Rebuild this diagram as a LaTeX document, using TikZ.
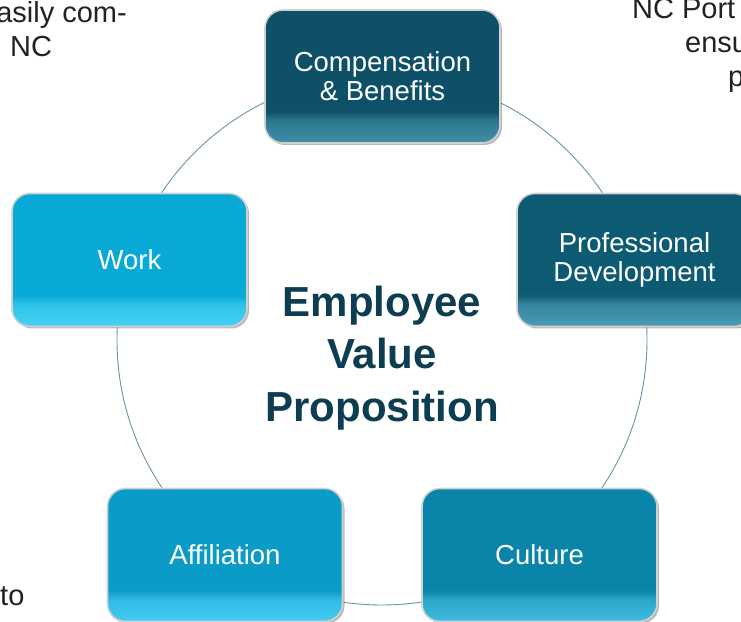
\documentclass[tikz,border=0pt]{standalone}
\usepackage{fontspec}
\setmainfont{Liberation Sans}
\usetikzlibrary{shadows}
\definecolor{ringc}{HTML}{6A94A2}
\definecolor{evpc}{HTML}{0D3D50}
\definecolor{fragc}{HTML}{222222}
\definecolor{compc}{HTML}{0E5068}
\definecolor{compl}{HTML}{3F8EA6}
\definecolor{profc}{HTML}{0D5A73}
\definecolor{profl}{HTML}{4A9DB5}
\definecolor{workc}{HTML}{09A9D6}
\definecolor{workl}{HTML}{45D2F5}
\definecolor{affc}{HTML}{0A9BC6}
\definecolor{affl}{HTML}{45CCF2}
\definecolor{cultc}{HTML}{0A84A8}
\definecolor{cultl}{HTML}{3FBBE0}
\tikzset{
  vbox/.style 2 args={rounded corners=18pt, minimum width=235pt, minimum height=133pt,
    draw=black!18, line width=1.6pt, text=white, align=center,
    font=\fontsize{27.5}{29}\selectfont, fill=#1,
    drop shadow={shadow xshift=2pt, shadow yshift=-2pt, opacity=0.4, fill=black!70},
    path picture={
      \fill[#2, sharp corners] ([yshift=-4pt]path picture bounding box.south west) rectangle
        ([yshift=2pt]path picture bounding box.south east);
      \foreach \k/\pp in {1/96,2/92,3/88,4/85,5/82,6/79,7/76,8/73,9/70,10/66,11/58,12/44,13/28,14/14,15/5}{
        \fill[#2!\pp!#1, sharp corners] ([yshift=\k*2pt-0.3pt]path picture bounding box.south west) rectangle
          ([yshift=\k*2pt+2pt]path picture bounding box.south east);}
    }},
  frag/.style={font=\fontsize{29}{34}\selectfont, text=fragc, inner sep=0pt},
  ring/.style={draw=ringc, line width=0.9pt}
}
\begin{document}
\begin{tikzpicture}[x=1pt, y=1pt]
\useasboundingbox (0,0) rectangle (741,621);
% corner fragments of slide text
\node[frag, anchor=base east] (f1) at (127,598) {asily com-};
\node[frag, anchor=base west] (f2) at (10,564) {NC};
\node[frag, anchor=base west] (f3) at (632,602) {NC Port};
\node[frag, anchor=base west] (f4) at (685,568) {ensu};
\node[frag, anchor=base west] (f5) at (728,534) {p};
\node[frag, anchor=base west] (f6) at (0,16) {to};
% ring
\coordinate (ctr) at (382,281);
\draw[ring] (ctr) circle [radius=265pt];
% boxes
\node[vbox={compc}{compl}] (comp) at (382.5,544.5) {Compensation\\\& Benefits};
\node[vbox={profc}{profl}] (prof) at (634.5,361) {Professional\\Development};
\node[vbox={workc}{workl}] (work) at (129.5,361) {Work};
\node[vbox={affc}{affl}] (aff) at (225,66) {Affiliation};
\node[vbox={cultc}{cultl}] (cult) at (539.5,66) {Culture};
% centre
\node[font=\fontsize{42}{52.5}\selectfont\bfseries, text=evpc, align=center] (evp) at (382,263)
  {Employee\\Value\\Proposition};
\end{tikzpicture}
\end{document}
